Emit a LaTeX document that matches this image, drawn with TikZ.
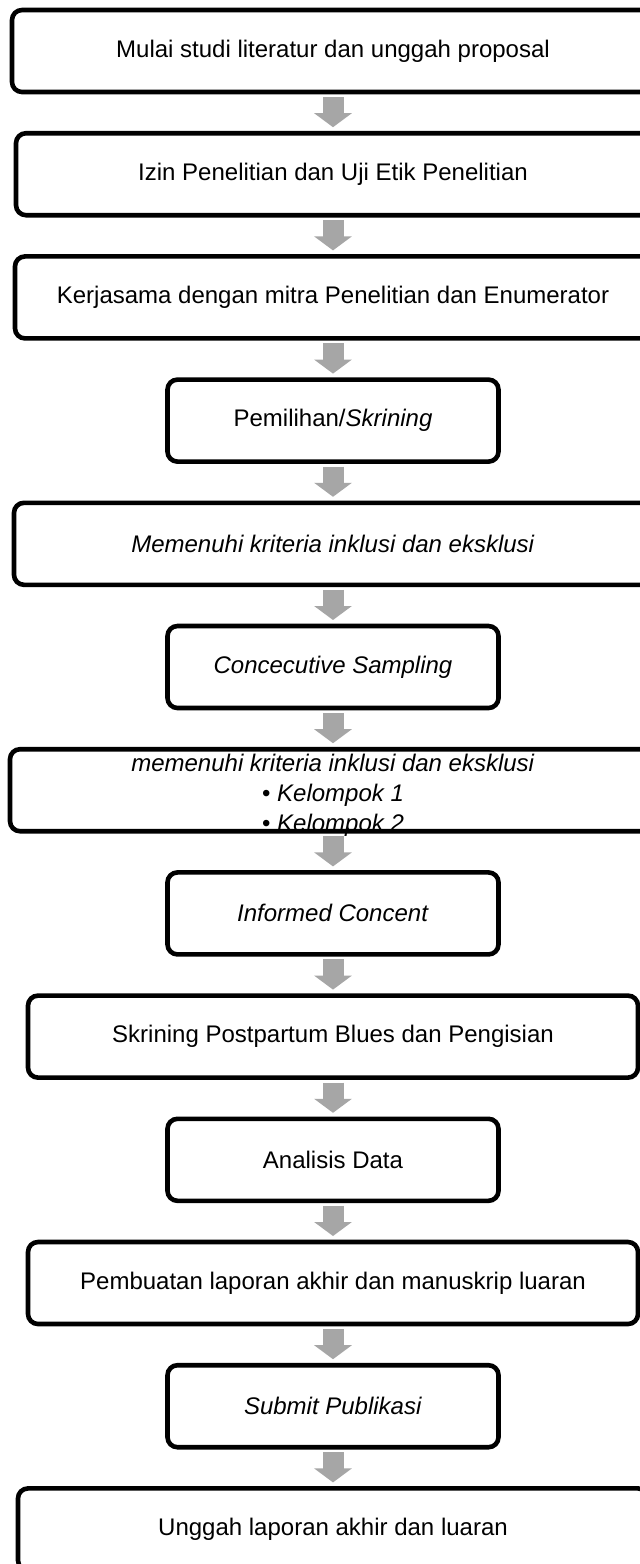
\documentclass[tikz,border=0pt]{standalone}
\usepackage{fontspec}
\setmainfont{Liberation Sans}
\usetikzlibrary{arrows.meta,positioning}
\definecolor{flowgray}{RGB}{166,166,166}
\tikzset{
  every picture/.style={font=\fontsize{12}{15}\selectfont},
  box/.style={draw,line width=2.3pt,rounded corners=5pt,outer sep=0pt,inner sep=0pt,
    minimum height=41pt,align=center},
  wide/.style={box,minimum width=#1},
  narrow/.style={box,minimum width=165.5pt},
  flow/.style={flowgray,line width=10.5pt,-{Triangle[width=18.5pt,length=7pt]},
    shorten <=2.5pt,shorten >=3pt},
}

\begin{document}
\begin{tikzpicture}[node distance=20.6pt]
  \useasboundingbox[fill=white] (0,0) rectangle (320pt,-782pt);
  % the steps, top to bottom
  \node[wide=321pt] (mulai) at (166.5pt,-25.5pt) {Mulai studi literatur dan unggah proposal};
  \node[wide=317pt,below=of mulai] (izin) {Izin Penelitian dan Uji Etik Penelitian};
  \node[wide=318pt,below=of izin] (mitra) {Kerjasama dengan mitra Penelitian dan Enumerator};
  \node[narrow,below=of mitra] (pilih) {Pemilihan/\textit{Skrining}};
  \node[wide=319pt,below=of pilih] (kriteria) {\textit{Memenuhi kriteria inklusi dan eksklusi}};
  \node[narrow,below=of kriteria] (sampling) {\textit{Concecutive Sampling}};
  \node[wide=323pt,below=of sampling] (kelompok) {\smash{\raisebox{-5.5pt}{\begin{tabular}{@{}c@{}}
    \textit{memenuhi kriteria inklusi dan eksklusi}\\
    \textbullet\ \textit{Kelompok 1}\\
    \textbullet\ \textit{Kelompok 2}\end{tabular}}}};
  \node[narrow,below=of kelompok] (informed) {\textit{Informed Concent}};
  \node[wide=305pt,below=of informed] (skrining) {Skrining Postpartum Blues dan Pengisian};
  \node[narrow,below=of skrining] (analisis) {Analisis Data};
  \node[wide=305pt,below=of analisis] (laporan) {Pembuatan laporan akhir dan manuskrip luaran};
  \node[narrow,below=of laporan] (submit) {\textit{Submit Publikasi}};
  \node[wide=315pt,below=of submit] (unggah) {Unggah laporan akhir dan luaran};
  % gray arrows between them
  \foreach \a/\b in {mulai/izin,izin/mitra,mitra/pilih,pilih/kriteria,kriteria/sampling,
    sampling/kelompok,kelompok/informed,informed/skrining,skrining/analisis,
    analisis/laporan,laporan/submit,submit/unggah}
    \draw[flow] (\a) -- (\b);
\end{tikzpicture}
\end{document}
